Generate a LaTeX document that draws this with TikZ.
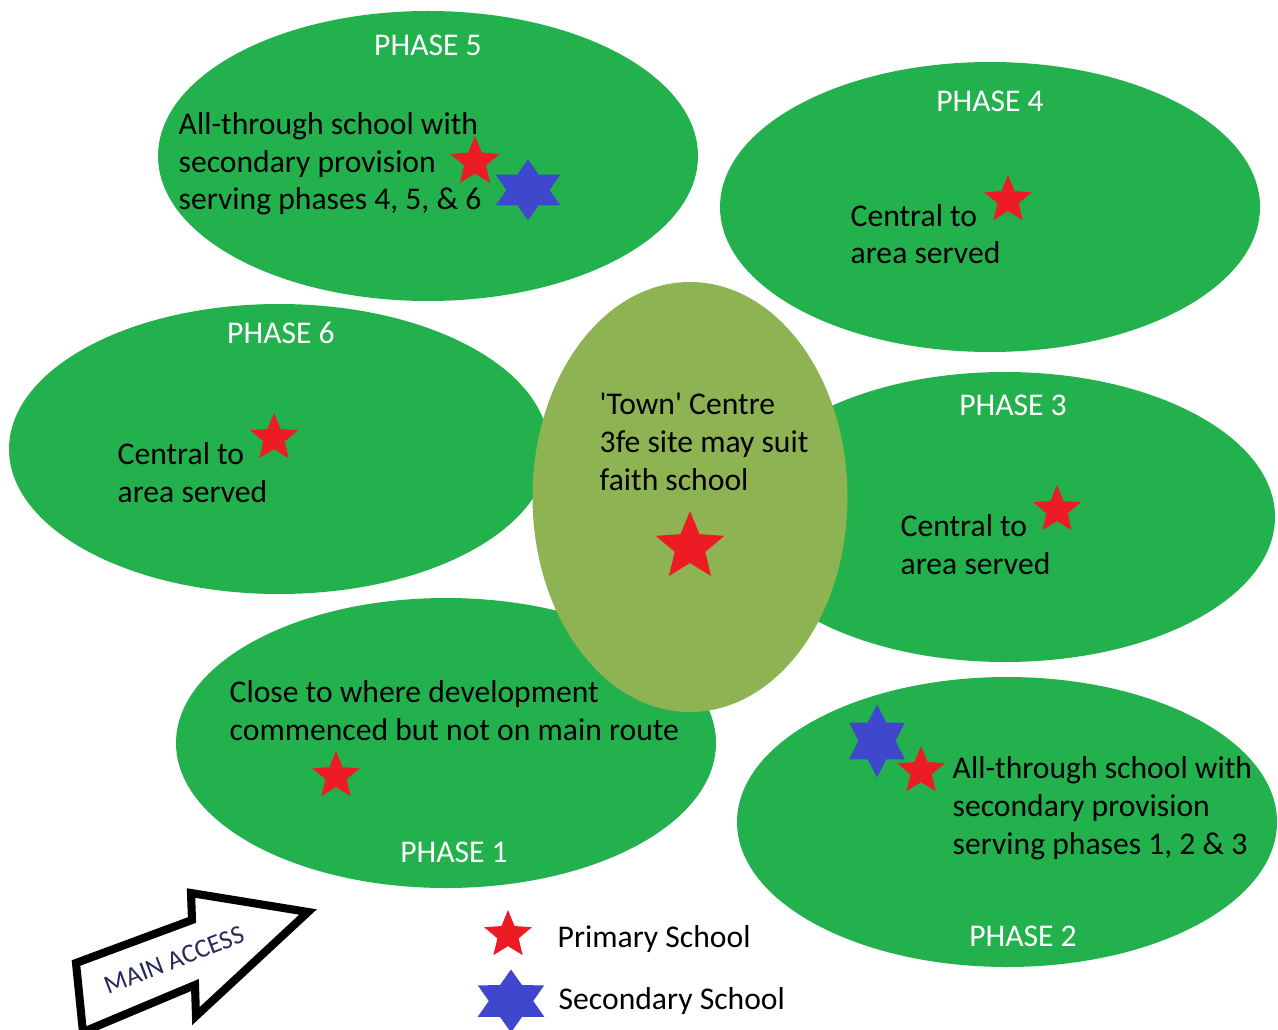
\documentclass[tikz,border=0pt]{standalone}
\usepackage{fontspec}
\setmainfont{Carlito}
\usetikzlibrary{shapes.geometric}
\definecolor{zoneGreen}{RGB}{34,177,76}
\definecolor{centreOlive}{RGB}{141,179,82}
\definecolor{starRed}{RGB}{237,28,36}
\definecolor{starBlue}{RGB}{63,72,204}
\definecolor{accessInk}{RGB}{40,40,95}

\begin{document}
\begin{tikzpicture}[x=0.1mm, y=-0.1mm,
  every node/.style={font=\fontsize{9}{10.8}\selectfont, inner sep=0pt},
  zone/.style={ellipse, fill=zoneGreen, minimum width=54mm, minimum height=29mm},
  phase/.style={text=white, anchor=base},
  body/.style={anchor=base west, align=left},
  primary/.style={star, star points=5, star point ratio=2.25, fill=starRed, minimum size=#1},
  primary/.default=5mm,
  secondary/.style={star, star points=6, star point ratio=1.73, fill=starBlue, minimum size=#1},
  secondary/.default=7.2mm]
  \useasboundingbox (0,0) rectangle (1278,1030);
  % the six phase areas, then the town centre on top
  \foreach \n/\x/\y in {5/428/156, 4/990/207, 6/279/449, 3/1005/517, 1/446/743, 2/1007/822}{
    \node[zone] (zone\n) at (\x,\y) {};
  }
  \node[ellipse, fill=centreOlive, minimum width=31.5mm, minimum height=43mm] (centre) at (690,497) {};
  % phase titles
  \foreach \n/\x/\y in {5/428/56, 4/990/112, 6/281/344, 3/1013/416, 1/454/862, 2/1023/946}{
    \node[phase] (title\n) at (\x,\y) {PHASE \n};
  }
  % descriptions (base = last line)
  \node[body] (text5) at (178,210) {All-through school with\\secondary provision\\serving phases 4, 5, \& 6};
  \node[body] (text4) at (850,264) {Central to\\area served};
  \node[body] (text6) at (117,502) {Central to\\area served};
  \node[body] (text3) at (900,574) {Central to\\area served};
  \node[body] (textC) at (599,490) {\textquotesingle Town\textquotesingle{} Centre\\3fe site may suit\\faith school};
  \node[body] (text1) at (229,740) {Close to where development\\commenced but not on main route};
  \node[body] (text2) at (952,854) {All-through school with\\secondary provision\\serving phases 1, 2 \& 3};
  % school sites: primary stars, secondary hexagrams (slightly stretched)
  \node[primary=5.2mm] (star5) at (475,162) {};
  \node[primary] (star4) at (1008,200) {};
  \node[primary] (star6) at (274,438) {};
  \node[primary] (star3) at (1057,510) {};
  \node[primary=7.2mm] (starC) at (690,547) {};
  \node[primary] (star1) at (336,776) {};
  \foreach \name/\x/\y/\h/\s in {hex5/528/190/6.1mm/1.22, hex2/877/741/7.3mm/0.88, keySecondary/511/1001/6.3mm/1.22}{
    \begin{scope}[shift={(\x,\y)}, xscale=\s]
      \node[secondary=\h, transform shape] (\name) at (0,0) {};
    \end{scope}
  }
  \node[primary] (star2) at (921,771) {};
  % main access arrow
  \draw[line width=2.3pt, fill=white, line join=miter] (76,963) -- (192,920) -- (191,893) -- (308,912)
    -- (196,1016) -- (195,985) -- (83,1032) -- cycle;
  \node[rotate=21, text=accessInk, font=\fontsize{7.5}{9}\selectfont] (access) at (174,960) {MAIN ACCESS};
  % key
  \node[primary] (keyPrimary) at (508,935) {};
  \node[body] (keyPrimaryText) at (557,947) {Primary School};
  \node[body] (keySecondaryText) at (558,1009) {Secondary School};
\end{tikzpicture}
\end{document}
